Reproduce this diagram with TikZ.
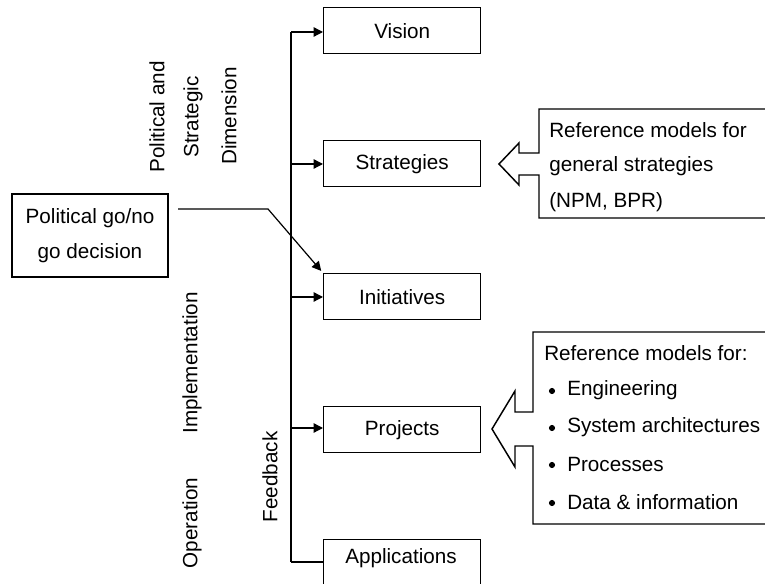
\documentclass[tikz,border=0pt]{standalone}
\usepackage{fontspec}
\setmainfont{Liberation Sans}
\usetikzlibrary{arrows.meta}
\begin{document}
\begin{tikzpicture}[x=0.75pt,y=-0.75pt,
  font=\fontsize{15.5pt}{26pt}\selectfont,
  stage/.style={draw,line width=1.1pt,minimum width=117.75pt,minimum height=34.5pt,inner sep=0pt,anchor=north west},
  lbl/.style={inner sep=0pt},
  rlbl/.style={inner sep=0pt,rotate=90},
  tip/.style={-{Triangle[length=7pt,width=7pt]}},
  outline/.style={draw,line width=1.1pt,line join=miter},
  bul/.style={circle,fill,inner sep=0pt,minimum size=4.6pt}]
\useasboundingbox (0,0) rectangle (765,584);
\clip (0,0) rectangle (765,584);

% stage boxes
\node[stage] (vision) at (323,7) {Vision};
\node[stage] (strat) at (323,140) {Strategies};
\node[stage] (init) at (323,273) {Initiatives};
\node[stage] (proj) at (323,406) {Projects};
\node[stage,minimum height=45pt] (appl) at (323,539) {};
\node[lbl] (applt) at (401,558) {Applications};

% decision box
\node[draw,line width=1.1pt,minimum width=117pt,minimum height=62pt,align=center,inner sep=0pt] (dec) at (90,235.5) {Political go/no\\go decision};

% spine
\coordinate (sTop) at (291,32);
\coordinate (sMid) at (291,397);
\coordinate (sBot) at (291,562);
\draw[line width=1.5pt] (sTop) -- (sMid);
\draw[line width=1pt] (sMid) -- (sBot);
\draw[line width=1.5pt] (sBot) -- (appl.west |- sBot);

\coordinate (bV) at (291,32);
\coordinate (bS) at (291,164);
\coordinate (bI) at (291,297);
\coordinate (bP) at (291,428);
\draw[tip,line width=1pt] (bV) -- (vision.west |- bV);
\draw[tip,line width=1pt] (bS) -- (strat.west |- bS);
\draw[tip,line width=1pt] (bI) -- (init.west |- bI);
\draw[tip,line width=1pt] (bP) -- (proj.west |- bP);

% decision arrow
\coordinate (d0) at (178,209);
\coordinate (d1) at (268,209);
\draw[tip,line width=0.9pt,shorten >=2pt] (d0) -- (d1) -- (init.north west);

% rotated labels
\node[rlbl] (l1) at (157,117) {Political and};
\node[rlbl] (l2) at (193,117) {Strategic};
\node[rlbl] (l3) at (229,116) {Dimension};
\node[rlbl] (l4) at (192,363) {Implementation};
\node[rlbl] (l5) at (192,523) {Operation};
\node[rlbl] (l6) at (270,477) {Feedback};

% reference box 1
\draw[outline] (770,109) -- (539,109) -- (539,153) -- (519,153) -- (519,143) -- (499,164)
  -- (519,185) -- (519,175) -- (539,175) -- (539,218) -- (770,218);
\node[lbl,anchor=west] (r1a) at (549,130) {Reference models for};
\node[lbl,anchor=west] (r1b) at (549,166) {general strategies};
\node[lbl,anchor=west] (r1c) at (549,202) {(NPM, BPR)};

% reference box 2
\draw[outline] (770,332) -- (533,332) -- (533,412) -- (515,412) -- (515,391) -- (492,429)
  -- (515,467) -- (515,446) -- (533,446) -- (533,524) -- (770,524);
\node[lbl,anchor=west] (r2a) at (544,353) {Reference models for:};
\node[bul] (b1) at (552,391) {};
\node[bul] (b2) at (552,428) {};
\node[bul] (b3) at (552,465) {};
\node[bul] (b4) at (552,503) {};
\node[lbl,anchor=west] (r2b) at (567,390) {Engineering};
\node[lbl,anchor=west] (r2c) at (567,427) {System architectures};
\node[lbl,anchor=west] (r2d) at (567,464) {Processes};
\node[lbl,anchor=west] (r2e) at (567,502) {Data \& information};
\end{tikzpicture}
\end{document}
